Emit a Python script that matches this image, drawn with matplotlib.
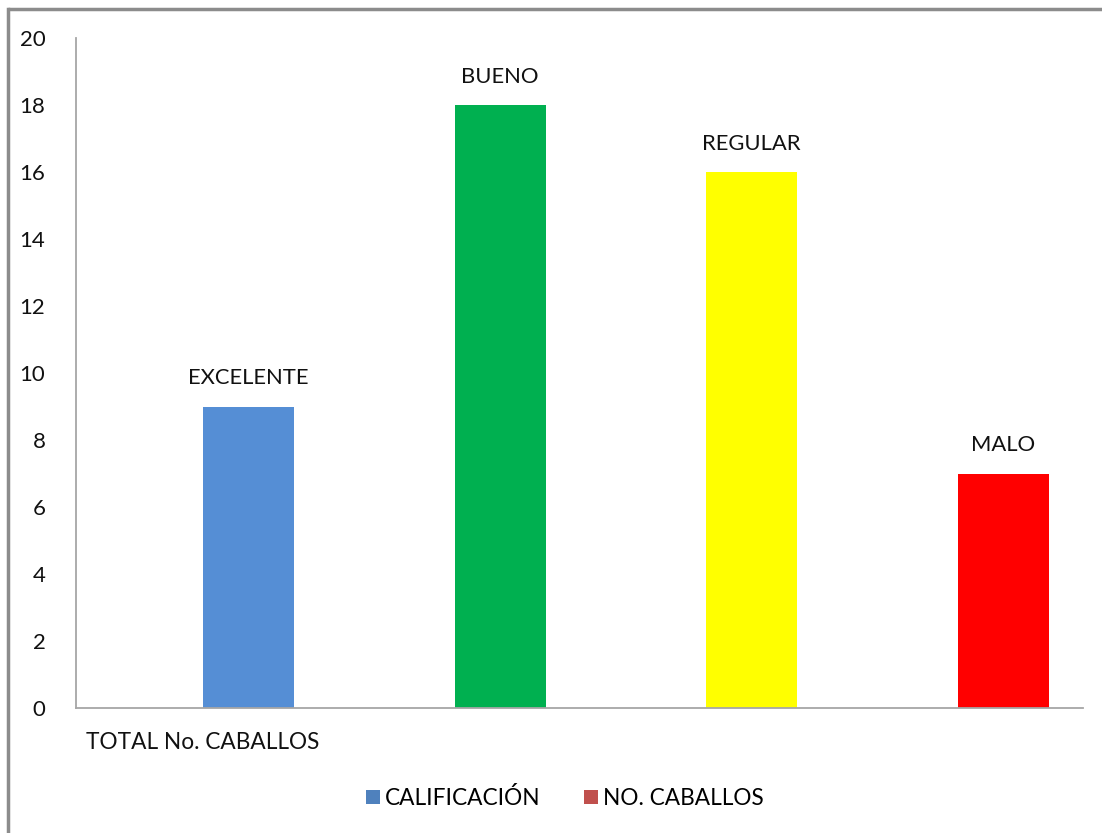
import matplotlib
matplotlib.use("Agg")
import matplotlib.pyplot as plt
from matplotlib.patches import Patch
from matplotlib.lines import Line2D

categories = ["EXCELENTE", "BUENO", "REGULAR", "MALO"]
values = [9, 18, 16, 7]
bar_colors = ["#558ED5", "#00B050", "#FFFF00", "#FF0000"]
yticks = [0, 2, 4, 6, 8, 10, 12, 14, 16, 18, 20]
category_label = "TOTAL No. CABALLOS"
legend_labels = ["CALIFICACIÓN", "NO. CABALLOS"]
legend_colors = ["#4F81BD", "#C0504D"]

plt.rcParams['font.family'] = ['Lato', 'DejaVu Sans']

W, H = 1102, 833
fig = plt.figure(figsize=(W / 100, H / 100), dpi=100)
fig.patch.set_facecolor("white")

# outer frame (left and top edges visible)
fig.add_artist(Line2D([7.5 / W, 7.5 / W], [-0.01, 1 - 8.5 / H], transform=fig.transFigure,
                      color="#8C8C8C", linewidth=2.5, solid_capstyle="projecting"))
fig.add_artist(Line2D([7.5 / W, 1.02], [1 - 8.5 / H, 1 - 8.5 / H], transform=fig.transFigure,
                      color="#8C8C8C", linewidth=2.5, solid_capstyle="butt"))

left, right, top, bottom = 76, 1083, 38, 708
ax = fig.add_axes([left / W, 1 - bottom / H, (right - left) / W, (bottom - top) / H])

x = list(range(len(categories)))
ax.bar(x, values, width=0.362, color=bar_colors, edgecolor="none")
for xi, v, lab in zip(x, values, categories):
    ax.annotate(lab, (xi, v), xytext=(0, 13), textcoords="offset points",
                ha="center", va="bottom", fontsize=15.8, color="#111111")

ax.set_xlim(-0.686, 3.318)
ax.set_ylim(0, 20)
ax.set_yticks(yticks)
ax.set_yticklabels([str(t) for t in yticks], fontsize=16, color="#111111")
ax.tick_params(axis="y", length=0, pad=22)
ax.set_xticks([])
for s in ["top", "right"]:
    ax.spines[s].set_visible(False)
for s in ["left", "bottom"]:
    ax.spines[s].set_color("#A6A6A6")
    ax.spines[s].set_linewidth(1.3)

ax.text(0.1255, -0.051, category_label, transform=ax.transAxes,
        ha="center", va="center", fontsize=16.3, color="#111111")

handles = [Patch(facecolor=c, edgecolor="none") for c in legend_colors]
fig.legend(handles, legend_labels, loc="center", bbox_to_anchor=(565 / W, 1 - 798 / H),
           ncol=2, frameon=False, fontsize=16.3, handlelength=0.6, handleheight=0.6,
           handletextpad=0.25, columnspacing=1.9)

fig.savefig("out.png", dpi=100, facecolor="white")
